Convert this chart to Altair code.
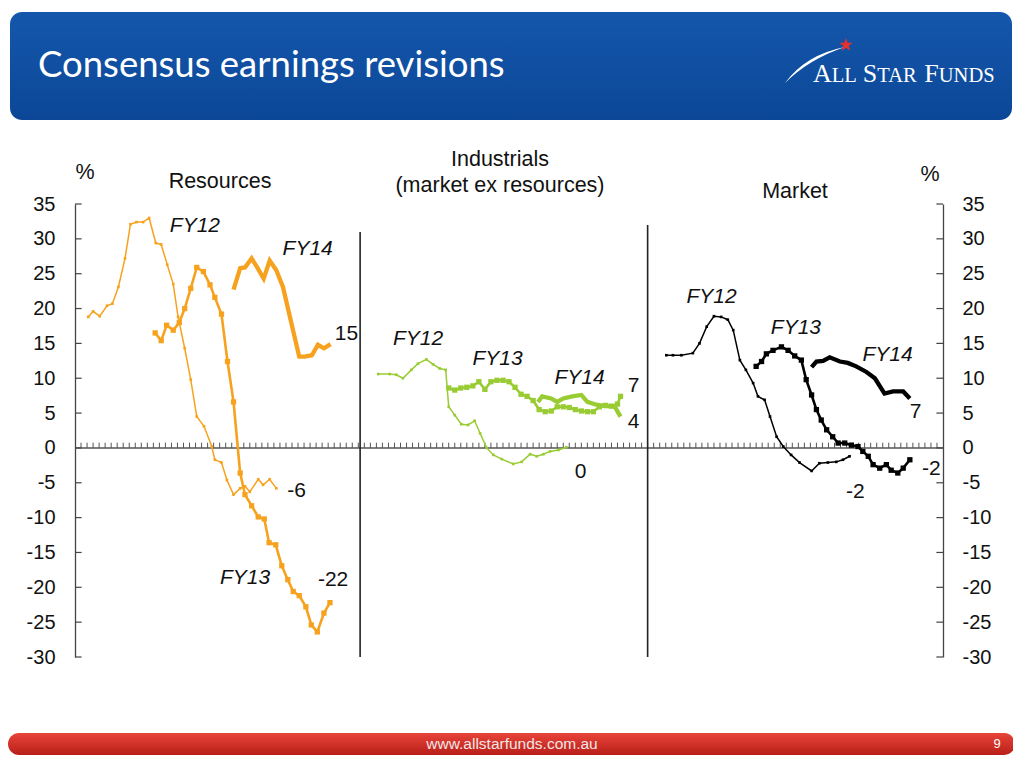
import altair as alt
import pandas as pd

# ---------------- data (months since Jun-2010, value in %) ----------------
panels = ["Resources", "Industrials", "Market"]
panel_colors = ["#f7a21e", "#99cc33", "#000000"]

res_fy12_m = [2.2, 3.0, 4.1, 5.3, 6.2, 7.2, 8.3, 9.2, 10.2, 11.3, 12.3, 13.4, 14.3, 15.3, 16.3, 17.1,
              18.2, 19.2, 20.2, 21.4, 22.7, 23.2, 24.3, 25.2, 26.3, 27.4, 28.2, 29.0, 30.4, 31.2, 32.3, 33.4]
res_fy12_v = [18.8, 19.6, 18.9, 20.4, 20.7, 23.1, 27.2, 32.1, 32.4, 32.4, 33.0, 29.4, 29.2, 26.3, 23.5, 18.8,
              14.3, 9.8, 4.5, 3.1, 0.2, -1.7, -2.1, -4.6, -6.7, -5.8, -5.5, -6.3, -4.5, -5.3, -4.5, -5.8]
res_fy13_m = [13.3, 14.3, 15.2, 16.3, 17.3, 18.2, 19.2, 20.2, 21.3, 22.4, 23.2, 24.3, 25.3, 26.3, 27.4,
              28.2, 29.3, 30.4, 31.4, 32.2, 33.3, 34.3, 35.3, 36.2, 37.2, 38.3, 39.2, 40.2, 41.3, 42.3]
res_fy13_v = [16.5, 15.4, 17.6, 16.9, 18.0, 20.0, 22.9, 25.9, 25.3, 23.4, 21.6, 19.2, 12.4, 6.6, -3.6,
              -6.7, -8.3, -9.9, -10.2, -13.6, -13.9, -16.9, -18.9, -20.6, -21.2, -22.8, -25.4, -26.4, -23.7, -22.2]
res_fy14_m = [26.3, 27.4, 28.2, 29.3, 30.3, 31.3, 32.3, 33.4, 34.5, 35.9, 37.2, 38.1, 39.3, 40.3, 41.3, 42.4]
res_fy14_v = [22.7, 25.8, 25.9, 27.2, 25.8, 24.3, 26.9, 25.5, 23.1, 17.9, 13.1, 13.1, 13.3, 14.8, 14.3, 14.9]

ind_fy12_m = [2.3, 4.2, 5.3, 6.4, 7.8, 8.9, 10.3, 11.4, 12.5, 13.5, 14.0, 15.0, 16.1, 17.2, 18.3, 19.2,
              20.3, 21.4, 22.8, 24.7, 26.1, 27.5, 28.6, 29.7, 30.8, 32.2, 33.5]
ind_fy12_v = [10.6, 10.6, 10.5, 10.0, 11.2, 12.1, 12.7, 12.0, 11.4, 11.2, 5.9, 4.7, 3.4, 3.3, 3.9, 2.1,
              0.0, -1.0, -1.6, -2.3, -2.0, -0.9, -1.2, -0.9, -0.5, -0.3, 0.1]
ind_fy13_m = [14.0, 15, 16, 17, 18, 19, 20, 21, 22, 23, 24, 25, 26, 27, 28, 29, 30, 31, 32, 33,
              34, 35, 36, 37, 38, 39, 40, 41, 42, 42.5]
ind_fy13_v = [8.6, 8.3, 8.6, 8.7, 8.9, 9.5, 8.4, 9.5, 9.7, 9.7, 9.5, 8.7, 7.7, 7.4, 6.8, 5.5, 5.2, 5.3, 5.9, 5.9,
              5.8, 5.5, 5.3, 5.2, 5.2, 5.9, 6.1, 6.0, 6.3, 7.4]
ind_fy14_m = [28.8, 29.5, 31, 32, 33, 34.5, 36, 37, 38.5, 40, 41.5, 42.5]
ind_fy14_v = [6.6, 7.4, 7.1, 6.6, 7.1, 7.4, 7.6, 6.6, 6.2, 6.0, 6.0, 4.5]

mkt_fy12_m = [2.1, 3.2, 4.6, 6.5, 7.6, 8.8, 10.0, 11.2, 12.3, 13.2, 14.3, 15.3, 16.5, 17.3, 18.4, 19.3,
              20.4, 21.5, 22.8, 24.2, 26.2, 27.5, 28.9, 30.3, 31.4, 32.5]
mkt_fy12_v = [13.3, 13.3, 13.3, 13.6, 15.0, 17.4, 18.9, 18.8, 18.4, 16.9, 12.6, 11.2, 9.3, 7.4, 6.9, 4.5,
              1.6, 0.2, -1.0, -2.1, -3.3, -2.2, -2.1, -2.0, -1.7, -1.2]
mkt_fy13_m = [17.0, 17.9, 18.7, 19.8, 21.2, 22.3, 23.4, 24.5, 25.3, 26.2, 27.0, 27.8, 28.7, 29.7, 30.6,
              31.7, 32.8, 33.9, 34.7, 35.6, 36.4, 37.5, 38.6, 39.4, 40.5, 41.4, 42.5]
mkt_fy13_v = [11.7, 12.4, 13.5, 14.0, 14.5, 14.0, 13.2, 12.6, 9.8, 7.6, 5.5, 4.0, 2.6, 1.6, 0.7,
              0.7, 0.4, 0.2, -0.5, -1.2, -2.4, -2.9, -2.4, -3.2, -3.6, -2.9, -1.7]
mkt_fy14_m = [26.2, 27.0, 28.1, 29.2, 30.9, 32.2, 33.6, 35.3, 36.7, 38.3, 39.7, 41.4, 42.5]
mkt_fy14_v = [11.6, 12.4, 12.5, 13.0, 12.4, 12.2, 11.7, 10.9, 10.0, 7.8, 8.1, 8.1, 7.1]

# annotation labels (text, month on shared axis, value)
fy_text = ["FY12", "FY14", "FY13", "FY12", "FY13", "FY14", "FY12", "FY13", "FY14"]
fy_x = [19.9, 38.6, 28.2, 56.9, 70.1, 83.7, 105.6, 119.6, 134.8]
fy_y = [31.9, 28.6, -18.7, 15.6, 12.8, 10.0, 21.7, 17.2, 13.3]
end_text = ["15", "-6", "-22", "7", "4", "0", "7", "-2", "-2"]
end_x = [43.1, 35.2, 40.3, 91.7, 91.7, 82.9, 138.5, 140.5, 127.9]
end_y = [16.4, -6.2, -18.9, 8.9, 3.7, -3.4, 5.2, -3.0, -6.3]

y_ticks = [-30, -25, -20, -15, -10, -5, 0, 5, 10, 15, 20, 25, 30, 35]
x_label_values = [0, 24, 48, 72, 96, 120]
months_per_panel = 48

# ---------------- build table ----------------
series = {
    ("Resources", "FY12"): (res_fy12_m, res_fy12_v),
    ("Resources", "FY13"): (res_fy13_m, res_fy13_v),
    ("Resources", "FY14"): (res_fy14_m, res_fy14_v),
    ("Industrials", "FY12"): (ind_fy12_m, ind_fy12_v),
    ("Industrials", "FY13"): (ind_fy13_m, ind_fy13_v),
    ("Industrials", "FY14"): (ind_fy14_m, ind_fy14_v),
    ("Market", "FY12"): (mkt_fy12_m, mkt_fy12_v),
    ("Market", "FY13"): (mkt_fy13_m, mkt_fy13_v),
    ("Market", "FY14"): (mkt_fy14_m, mkt_fy14_v),
}
rows = []
for (panel, fy), (ms, vs) in series.items():
    off = panels.index(panel) * months_per_panel
    for i, (m, v) in enumerate(zip(ms, vs)):
        rows.append({"panel": panel, "fy": fy, "key": panel + fy, "i": i, "x": m + off, "v": v})
df = pd.DataFrame(rows)

FONT = "Liberation Sans"
xscale = alt.Scale(domain=[0, 144], nice=False, zero=False)
yscale = alt.Scale(domain=[-30, 35], nice=False, zero=False)
cscale = alt.Scale(domain=panels, range=panel_colors)


def X(field="x:Q", axis=None):
    return alt.X(field, scale=xscale, axis=axis, title=None)


def Y(field="v:Q", axis=None):
    return alt.Y(field, scale=yscale, axis=axis, title=None)


base = alt.Chart(df)

x_axis = alt.Axis(values=x_label_values,
                  labelExpr="datum.value % 48 == 0 ? 'Jun-2010' : 'Jun-2012'",
                  domain=False, ticks=False, grid=False, labelFontSize=21, labelFont=FONT,
                  labelColor="#111", labelPadding=14, labelFlush=False, labelOverlap=False)
left_axis = alt.Axis(values=y_ticks, orient="left", domain=True, domainColor="#444", domainWidth=1.3,
                     ticks=False, grid=False, labelFontSize=20, labelFont=FONT, labelColor="#111",
                     labelPadding=20, labelExpr="datum.value + ''")
right_axis = alt.Axis(values=y_ticks, orient="right", domain=True, domainColor="#444", domainWidth=1.3,
                      ticks=False, grid=False, labelFontSize=20, labelFont=FONT, labelColor="#111",
                      labelPadding=19, labelExpr="datum.value + ''")

# axis frames with inward ticks
tick_df = pd.DataFrame({"t": y_ticks})
left_frame = alt.Chart(tick_df).mark_rule(color="#444", strokeWidth=1.2).encode(
    x=X("lo:Q", axis=x_axis), x2="hi:Q", y=Y("t:Q", axis=left_axis)
).transform_calculate(lo="0", hi="1.1")
right_frame = alt.Chart(tick_df).mark_rule(color="#444", strokeWidth=1.2).encode(
    x=X("lo:Q"), x2="hi:Q", y=Y("t:Q", axis=right_axis)
).transform_calculate(lo="142.9", hi="144")

# zero line with monthly ticks
month_df = pd.DataFrame({"m": list(range(1, 144))})
zero_ticks = alt.Chart(month_df).mark_rule(color="#555", strokeWidth=1).encode(
    x=X("m:Q"), y=Y("a:Q"), y2="b:Q"
).transform_calculate(a="0", b="0.75")
zero_line = alt.Chart(pd.DataFrame({"a": [0], "b": [144], "z": [0]})).mark_rule(
    color="#555", strokeWidth=1.5).encode(x=X("a:Q"), x2="b:Q", y=Y("z:Q"))

# panel dividers
div_df = pd.DataFrame({"x": [47.3, 95.0], "top": [31.0, 32.0], "bot": [-30, -30]})
dividers = alt.Chart(div_df).mark_rule(color="#222", strokeWidth=1.6).encode(
    x=X("x:Q"), y=Y("top:Q"), y2="bot:Q")

color_enc = alt.Color("panel:N", scale=cscale, legend=None)

fy12_line = base.transform_filter("datum.fy == 'FY12'").mark_line(strokeWidth=1.5).encode(
    x=X(), y=Y(), color=color_enc, detail="key:N", order="i:Q")
fy12_pts = base.transform_filter("datum.fy == 'FY12'").mark_point(
    filled=True, shape="square", size=7, opacity=1).encode(x=X(), y=Y(), color=color_enc)
fy13_line = base.transform_filter("datum.fy == 'FY13'").mark_line(strokeWidth=2.6).encode(
    x=X(), y=Y(), color=color_enc, detail="key:N", order="i:Q")
fy13_pts = base.transform_filter("datum.fy == 'FY13'").mark_point(
    filled=True, shape="square", size=28, opacity=1).encode(x=X(), y=Y(), color=color_enc)
fy14_line = base.transform_filter("datum.fy == 'FY14'").mark_line(strokeWidth=4.3).encode(
    x=X(), y=Y(), color=color_enc, detail="key:N", order="i:Q")

fy_df = pd.DataFrame({"t": fy_text, "x": fy_x, "v": fy_y})
fy_labels = alt.Chart(fy_df).mark_text(font=FONT, fontSize=21, fontStyle="italic", color="#111",
                                       align="center", baseline="middle").encode(
    x=X(), y=Y(), text="t:N")
end_df = pd.DataFrame({"t": end_text, "x": end_x, "v": end_y})
end_labels = alt.Chart(end_df).mark_text(font=FONT, fontSize=21, color="#111",
                                         align="left", baseline="middle").encode(
    x=X(), y=Y(), text="t:N")

# ---------------- slide decorations (pixel positions relative to plot area) ----------------
one = pd.DataFrame({"a": [0]})
deco = alt.Chart(one)

header = deco.mark_rect(
    cornerRadius=12,
    color=alt.LinearGradient(gradient="linear", x1=0, y1=0, x2=0, y2=1,
                             stops=[alt.GradientStop(color="#1457ac", offset=0),
                                    alt.GradientStop(color="#0c4797", offset=1)])
).encode(x=alt.value(-65), x2=alt.value(937), y=alt.value(-192), y2=alt.value(-84))

title = deco.mark_text(text="Consensus earnings revisions", font="Lato", fontSize=36.5, color="white",
                       align="left", baseline="alphabetic").encode(x=alt.value(-37), y=alt.value(-127))

logo_parts = pd.DataFrame({
    "t": ["A", "LL", "S", "TAR", "F", "UNDS"],
    "px": [738, 756.8, 787.8, 802.3, 849.3, 863.8],
    "fs": [26, 20.5, 26, 20.5, 26, 20.5],
})
logo_text = alt.Chart(logo_parts).mark_text(font="Liberation Serif", color="white", align="left",
                                            baseline="alphabetic").encode(
    x=alt.X("px:Q", scale=None, axis=None), y=alt.value(-122), text="t:N",
    size=alt.Size("fs:Q", scale=None, legend=None))
swoosh = deco.mark_point(
    shape="M -1 0.6 Q -0.3 -0.35 1 -0.6 Q -0.2 -0.2 -1 0.6 Z", filled=True, color="white", opacity=1,
    size=3600).encode(x=alt.value(740), y=alt.value(-139))
star = deco.mark_point(
    shape="M 0 -1 L 0.235 -0.324 L 0.951 -0.309 L 0.38 0.124 L 0.588 0.809 L 0 0.4 L -0.588 0.809 "
          "L -0.38 0.124 L -0.951 -0.309 L -0.235 -0.324 Z",
    filled=True, color="#e8312a", opacity=1, size=196).encode(x=alt.value(771), y=alt.value(-159))

footer = deco.mark_rect(
    cornerRadius=11,
    color=alt.LinearGradient(gradient="linear", x1=0, y1=0, x2=0, y2=1,
                             stops=[alt.GradientStop(color="#e8443a", offset=0),
                                    alt.GradientStop(color="#b81f18", offset=1)])
).encode(x=alt.value(-67), x2=alt.value(940), y=alt.value(529), y2=alt.value(551))
footer_text = deco.mark_text(text="www.allstarfunds.com.au", font="Liberation Sans", fontSize=15.5,
                             color="#f0e6e6", align="center", baseline="middle").encode(
    x=alt.value(437), y=alt.value(540))
page_num = deco.mark_text(text="9", font="Liberation Sans", fontSize=13, color="white",
                          align="center", baseline="middle").encode(x=alt.value(922), y=alt.value(540))

head_texts = pd.DataFrame({
    "t": ["%", "Resources", "Industrials", "(market ex resources)", "Market", "%"],
    "px": [10, 145, 425, 425, 720, 855],
    "py": [-31, -22, -44, -18, -12, -29],
})
heads = alt.Chart(head_texts).mark_text(font=FONT, fontSize=21.5, color="#111", align="center",
                                        baseline="middle").encode(
    x=alt.X("px:Q", scale=None, axis=None), y=alt.Y("py:Q", scale=None, axis=None), text="t:N")

chart = alt.layer(
    header, title, swoosh, star, logo_text, footer, footer_text, page_num, heads,
    zero_line, zero_ticks, dividers,
    fy12_line, fy12_pts, fy13_line, fy13_pts, fy14_line,
    fy_labels, end_labels,
    left_frame, right_frame,
).resolve_scale(y="independent").properties(
    width=868, height=453,
    padding={"left": 67, "top": 196, "right": 70, "bottom": 99},
    autosize=alt.AutoSizeParams(type="none"),
    background="white",
).configure_view(stroke=None)

chart.save("out.html", embed_options={"renderer": "svg", "actions": False})
